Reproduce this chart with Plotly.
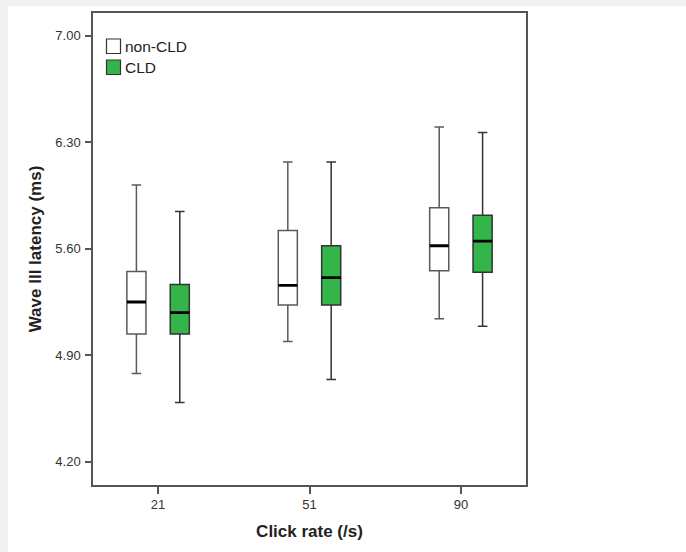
import plotly.graph_objects as go

rates = ["21", "51", "90"]
groups = ["non-CLD", "CLD"]

noncld_low = [4.78, 4.99, 5.14]
noncld_q1 = [5.04, 5.23, 5.455]
noncld_med = [5.25, 5.36, 5.62]
noncld_q3 = [5.45, 5.72, 5.87]
noncld_high = [6.02, 6.17, 6.40]

cld_low = [4.59, 4.74, 5.09]
cld_q1 = [5.04, 5.23, 5.445]
cld_med = [5.18, 5.41, 5.65]
cld_q3 = [5.365, 5.62, 5.82]
cld_high = [5.845, 6.17, 6.365]

y_ticks = [4.20, 4.90, 5.60, 6.30, 7.00]

GREEN = "#33b54a"

fig = go.Figure()

series = [
    ("non-CLD", "white", "#5a5a5a", noncld_low, noncld_q1, noncld_med, noncld_q3, noncld_high, "a"),
    ("CLD", GREEN, "#333333", cld_low, cld_q1, cld_med, cld_q3, cld_high, "b"),
]
for name, fill, edge, lo, q1, med, q3, hi, og in series:
    fig.add_trace(go.Box(
        x=rates, lowerfence=lo, q1=q1, median=med, q3=q3, upperfence=hi,
        name=name, fillcolor=fill, line=dict(color=edge, width=1.5),
        whiskerwidth=0.5, offsetgroup=og, showlegend=False, hoverinfo="skip",
    ))
    # thicker median line overlay
    fig.add_trace(go.Box(
        x=rates, lowerfence=med, q1=med, median=med, q3=med, upperfence=med,
        name=name + " median", fillcolor="rgba(0,0,0,0)", line=dict(color="black", width=2.8),
        whiskerwidth=1, offsetgroup=og, showlegend=False, hoverinfo="skip",
    ))

L, R, T, B = 93, 160, 13, 67
W, H = 686, 552
pw, ph = W - L - R, H - T - B

def px(x):
    return (x - L) / pw

def py(y):
    return 1 - (y - T) / ph

# light gray page strips (top and left)
fig.add_shape(type="rect", xref="paper", yref="paper", x0=px(0), x1=px(W), y0=py(6), y1=py(0),
              fillcolor="#f0f1f3", line_width=0, layer="below")
fig.add_shape(type="rect", xref="paper", yref="paper", x0=px(0), x1=px(8), y0=py(H), y1=py(0),
              fillcolor="#f0f1f3", line_width=0, layer="below")

# manual legend
legend_rows = [("non-CLD", "white", 39), ("CLD", GREEN, 60)]
for label, fill, top in legend_rows:
    fig.add_shape(type="rect", xref="paper", yref="paper",
                  x0=px(106.5), x1=px(120.5), y0=py(top + 14.5), y1=py(top),
                  fillcolor=fill, line=dict(color="#333333", width=1.2))
    fig.add_annotation(xref="paper", yref="paper", x=px(123), y=py(top + 7.5),
                       text=label, showarrow=False, xanchor="left", yanchor="middle",
                       font=dict(size=15.5, color="#222222"))

fig.update_layout(
    width=W, height=H,
    margin=dict(l=L, r=R, t=T, b=B),
    paper_bgcolor="white", plot_bgcolor="white",
    boxmode="group", boxgap=0.427, boxgroupgap=0.56,
    font=dict(family="Arial, Liberation Sans, sans-serif", color="#333333", size=13),
    showlegend=False,
)
fig.update_xaxes(
    type="category", categoryorder="array", categoryarray=rates, range=[-0.43, 2.43],
    showline=True, linecolor="#555555", linewidth=1.5, mirror=True,
    ticks="outside", ticklen=7, tickcolor="#555555", tickwidth=1.5,
    showgrid=False, zeroline=False, tickfont=dict(size=13, color="#333333"),
    title=dict(text="<b>Click rate (/s)</b>", font=dict(size=17, color="#222222"), standoff=14),
)
fig.update_yaxes(
    range=[4.047, 7.15], tickvals=y_ticks, ticktext=[f"{v:.2f}" for v in y_ticks],
    showline=True, linecolor="#555555", linewidth=1.5, mirror=True,
    ticks="outside", ticklen=6, tickcolor="#555555", tickwidth=1.5, ticklabelstandoff=2,
    showgrid=False, zeroline=False, tickfont=dict(size=13, color="#333333"),
    title=dict(text="<b>Wave III latency (ms)</b>", font=dict(size=17, color="#222222"), standoff=9),
)

fig.write_html("out.html")
